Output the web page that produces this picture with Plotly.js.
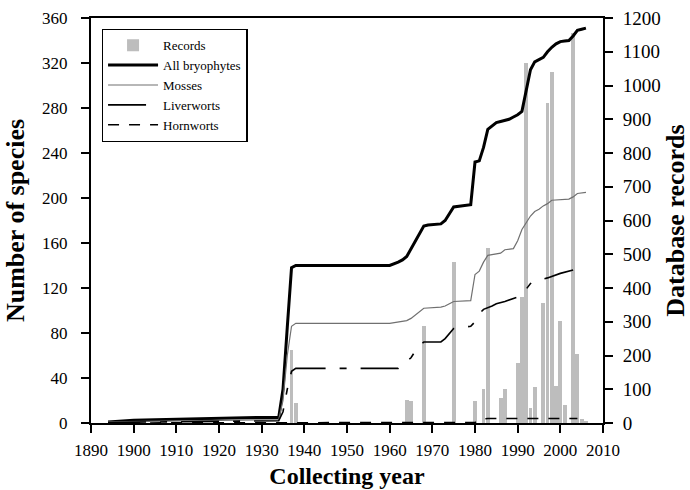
<!DOCTYPE html>
<html>
<head>
<meta charset="utf-8">
<script src="https://cdn.plot.ly/plotly-3.0.1.min.js"></script>
<style>
  html, body { margin: 0; padding: 0; background: #ffffff; }
  #chart { width: 690px; height: 490px; }
</style>
</head>
<body>
<div id="chart"></div>
<script>
// ---- Database records per collecting year (bars, right axis) ----
const recordYears = [1937, 1938, 1964, 1965, 1968, 1975, 1980, 1982, 1983, 1986, 1987,
                     1990, 1991, 1992, 1993, 1994, 1996, 1997, 1998, 1999, 2000, 2001,
                     2003, 2004, 2005, 2006];
const recordCounts = [216, 60, 68, 64, 288, 478, 66, 102, 518, 74, 100,
                      178, 374, 1067, 44, 107, 355, 948, 1041, 110, 302, 53,
                      1156, 204, 12, 6];

// ---- Cumulative number of species (lines, left axis) ----
const allYears = [1894, 1900, 1905, 1910, 1920, 1930, 1934, 1935, 1936, 1937, 1938,
                  1960, 1962, 1963, 1964, 1965, 1966, 1967, 1968, 1969, 1972, 1973, 1974, 1975,
                  1979, 1980, 1981, 1982, 1983, 1984, 1985, 1986, 1987, 1988, 1989,
                  1990, 1991, 1992, 1993, 1994, 1995, 1996, 1997, 1998, 1999, 2000,
                  2001, 2002, 2003, 2004, 2005, 2006];
const allSpecies = [1, 2.5, 3, 3.5, 4, 5, 5, 30, 85, 138, 140,
                    140, 143, 145, 148, 155, 162, 169, 175, 176, 177, 180, 186, 192,
                    194, 232, 233, 245, 261, 264, 267, 268, 269, 270, 272,
                    274, 277, 296, 314, 321, 323, 325, 330, 334, 337, 339,
                    339.5, 340, 344, 349, 350, 351];

const mossYears = [1894, 1910, 1930, 1934, 1935, 1936, 1937, 1938, 1960, 1962, 1963,
                   1964, 1965, 1966, 1967, 1968, 1972, 1973, 1974, 1975, 1979, 1980,
                   1981, 1982, 1983, 1985, 1986, 1987, 1989, 1990, 1991, 1992, 1993,
                   1994, 1995, 1996, 1997, 1998, 2000, 2002, 2003, 2004, 2006];
const mossSpecies = [1, 2, 3, 3, 20, 60, 86, 88.6, 88.6, 89.5, 90.5,
                     91, 93, 96, 99.5, 102, 103, 104, 106, 108, 108.7, 132,
                     135, 143, 149, 150, 151, 154, 155, 162, 172, 178, 184,
                     188, 190, 193, 195, 198, 198.5, 199, 201, 204, 205];

const liverYears = [1894, 1910, 1930, 1934, 1935, 1936, 1937, 1938, 1962, 1963, 1964,
                    1965, 1966, 1967, 1968, 1972, 1973, 1974, 1975, 1979, 1980, 1981,
                    1982, 1984, 1985, 1987, 1990, 1991, 1992, 1993, 1994, 1997, 2000, 2003];
const liverSpecies = [0.5, 1, 1.5, 2, 10, 30, 46, 48.6, 48.6, 52, 55,
                      58, 64, 69, 72, 72, 75, 80, 84, 86, 90, 97,
                      101, 104, 106, 108, 112, 115, 119, 124, 126, 129, 133, 136];

const hornYears = [1894, 1979, 1980, 1981, 1982, 1983, 2004];
const hornSpecies = [0, 0, 0.5, 2, 3.5, 4, 4];

const serif = 'Liberation Serif';

const traces = [
  {
    type: 'bar', name: 'Records', x: recordYears, y: recordCounts,
    yaxis: 'y', width: 0.9,
    marker: { color: '#bdbdbd', line: { width: 0 } }
  },
  {
    type: 'scatter', mode: 'lines', name: 'All bryophytes',
    x: allYears, y: allSpecies, yaxis: 'y2',
    line: { color: '#000000', width: 3 }
  },
  {
    type: 'scatter', mode: 'lines', name: 'Mosses',
    x: mossYears, y: mossSpecies, yaxis: 'y2',
    line: { color: '#707070', width: 1.2 }
  },
  {
    type: 'scatter', mode: 'lines', name: 'Liverworts',
    x: liverYears, y: liverSpecies, yaxis: 'y2',
    line: { color: '#000000', width: 1.6, dash: '38px,14px,7px,14px' }
  },
  {
    type: 'scatter', mode: 'lines', name: 'Hornworts',
    x: hornYears, y: hornSpecies, yaxis: 'y2',
    line: { color: '#000000', width: 1.6, dash: '11px,10px' }
  }
];

const layout = {
  width: 690, height: 490,
  margin: { l: 91, r: 87, t: 18, b: 67 },
  paper_bgcolor: '#ffffff', plot_bgcolor: '#ffffff',
  font: { family: serif, color: '#000000' },
  showlegend: true,
  legend: {
    x: 0.021, y: 0.973, xanchor: 'left', yanchor: 'top',
    bgcolor: '#ffffff', bordercolor: '#000000', borderwidth: 1.3,
    font: { family: serif, size: 13, color: '#000000' },
    itemwidth: 50, traceorder: 'normal'
  },
  xaxis: {
    range: [1890, 2010], tick0: 1890, dtick: 10,
    showline: true, linecolor: '#000000', linewidth: 2, mirror: true,
    ticks: 'outside', ticklen: 8, tickwidth: 2, tickcolor: '#000000',
    showgrid: false, zeroline: false,
    tickfont: { family: serif, size: 17, color: '#000000' },
    ticklabelstandoff: 3,
    title: { text: '<b>Collecting year</b>', font: { family: serif, size: 24, color: '#000000' }, standoff: 8 }
  },
  yaxis: {
    side: 'right', range: [0, 1200], dtick: 100, tick0: 0,
    showline: true, linecolor: '#000000', linewidth: 2,
    ticks: 'outside', ticklen: 8, tickwidth: 2, tickcolor: '#000000',
    showgrid: false, zeroline: false,
    tickfont: { family: serif, size: 19, color: '#000000' },
    ticklabelstandoff: 6,
    title: { text: '<b>Database records</b>', font: { family: serif, size: 26, color: '#000000' }, standoff: 10 }
  },
  yaxis2: {
    overlaying: 'y', side: 'left', range: [0, 360], dtick: 40, tick0: 0,
    showline: true, linecolor: '#000000', linewidth: 2,
    ticks: 'outside', ticklen: 8, tickwidth: 2, tickcolor: '#000000',
    showgrid: false, zeroline: false,
    tickfont: { family: serif, size: 17, color: '#000000' },
    ticklabelstandoff: 10,
    title: { text: '<b>Number of species</b>', font: { family: serif, size: 26, color: '#000000' }, standoff: 10 }
  },
  bargap: 0
};

Plotly.newPlot('chart', traces, layout, { staticPlot: true, displayModeBar: false });
</script>
</body>
</html>
